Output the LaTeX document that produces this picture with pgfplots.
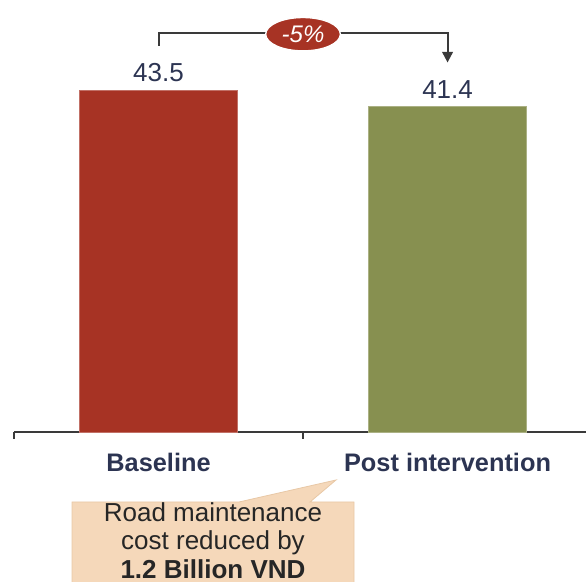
\documentclass[border=0pt]{standalone}
\usepackage{pgfplots}
\pgfplotsset{compat=1.18}
\usepackage{fontspec}
\setmainfont{Liberation Sans}
\usetikzlibrary{arrows.meta,shapes.geometric}
\definecolor{barred}{RGB}{167,51,36}
\definecolor{barolive}{RGB}{135,144,80}
\definecolor{navy}{RGB}{44,52,82}
\definecolor{tan}{RGB}{245,216,186}
\definecolor{tanedge}{RGB}{232,200,166}
\definecolor{linegray}{RGB}{58,58,58}
\begin{document}
\begin{tikzpicture}
\useasboundingbox (0,0) rectangle (439.5pt,436.5pt);
\begin{axis}[
  at={(10.5pt,112.5pt)}, anchor=south west,
  scale only axis, width=429pt, height=324.3pt,
  xmin=-0.5, xmax=1.479, ymin=0, ymax=55,
  clip=false,
  axis x line*=bottom, hide y axis,
  x axis line style={linegray, line width=0.9pt},
  xtick={0,1}, xticklabels={Baseline, Post intervention},
  major tick length=0pt,
  xticklabel style={font=\fontsize{19}{22}\selectfont\bfseries, text=navy, inner sep=0pt, anchor=north, yshift=-15.5pt},
  extra x ticks={-0.5,0.5}, extra x tick labels={},
  extra x tick style={major tick length=5pt, tick style={linegray, line width=0.9pt}, xtick pos=bottom, tick align=outside},
  ybar, bar width=118.5pt, bar shift=0pt,
  /pgf/number format/fixed, /pgf/number format/precision=1, /pgf/number format/fixed zerofill,
  /pgf/number format/assume math mode=true,
  nodes near coords,
  nodes near coords style={font=\fontsize{19.5}{22}\selectfont, text=navy, anchor=south, inner sep=0pt, yshift=6pt},
]
\addplot[fill=barred, draw=barred!70!white, line width=0.4pt] coordinates {(0,43.5)};
\addplot[fill=barolive, draw=barolive!70!white, line width=0.4pt] coordinates {(1,41.4)};
\draw[linegray, line width=1.5pt, -{Triangle[width=8pt,length=8pt]}]
  (axis cs:0,49.1) -- (axis cs:0,50.76) -- (axis cs:1,50.76) -- (axis cs:1,47.0);
\node[ellipse, fill=barred, draw=white, line width=1pt, minimum width=56pt, minimum height=25pt, inner sep=0pt,
  text=white, font=\fontsize{18}{20}\selectfont\itshape] at (axis cs:0.5,50.6) {-5\%};
\end{axis}
\fill[tan, draw=tanedge, line width=0.6pt] (54pt,-6pt) -- (54pt,60pt) -- (179.25pt,60pt) -- (252pt,76.5pt) -- (232.5pt,60pt) -- (265.5pt,60pt) -- (265.5pt,-6pt) -- cycle;
\node[anchor=north, inner sep=0pt, align=center, font=\fontsize{19.5}{21.5}\selectfont, text=black!85]
  at (159.75pt,60pt) {Road maintenance\\cost reduced by\\\textbf{1.2 Billion VND}};
\end{tikzpicture}
\end{document}
